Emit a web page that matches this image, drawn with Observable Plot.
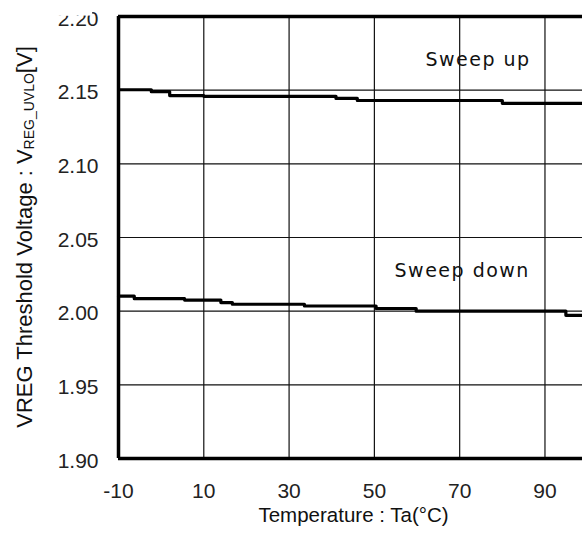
<!DOCTYPE html>
<html>
<head>
<meta charset="utf-8">
<script src="https://cdn.jsdelivr.net/npm/d3@7"></script>
<script src="https://cdn.jsdelivr.net/npm/@observablehq/plot@0.6"></script>
<style>
  html, body { margin: 0; padding: 0; background: #fff; }
  #chart { width: 582px; height: 538px; overflow: hidden; }
</style>
</head>
<body>
<div id="chart"></div>
<script>
// ---- data ----
const xTicks = [-10, 10, 30, 50, 70, 90];
const yTicks = [1.90, 1.95, 2.00, 2.05, 2.10, 2.15, 2.20];
const xDomain = [-10, 98.8];
const yDomain = [1.90, 2.20];

const upTemp = [-10, -2.3, 2, 10, 41, 46, 80, 98.8];
const upVolt = [2.1503, 2.1490, 2.1463, 2.1458, 2.1444, 2.1430, 2.1411, 2.1411];

const downTemp = [-10, -6.3, 5.5, 14, 16.7, 33.6, 50.4, 59.8, 94.9, 98.8];
const downVolt = [2.0102, 2.0085, 2.0075, 2.0058, 2.0047, 2.0035, 2.0018, 2.0000, 1.9972, 1.9972];

const seriesNames = ["Sweep up", "Sweep down"];
const labelTemp = [74.3, 70.6];
const labelVolt = [2.1702, 2.0273];

const xTitle = "Temperature : Ta(°C)";
const yTitleMain = "VREG Threshold Voltage : V";
const yTitleSub = "REG_UVLO";
const yTitleEnd = "[V]";

// ---- tables ----
const up = upTemp.map((t, i) => ({t, v: upVolt[i]}));
const down = downTemp.map((t, i) => ({t, v: downVolt[i]}));
const labels = seriesNames.map((s, i) => ({s, t: labelTemp[i], v: labelVolt[i]}));

const font = "'Liberation Sans', Arial, Helvetica, sans-serif";

const svg = Plot.plot({
  width: 582,
  height: 538,
  marginLeft: 118,
  marginRight: 0,
  marginTop: 16,
  marginBottom: 80,
  style: {fontFamily: font, fontSize: "21px", background: "#fff", color: "#111", overflow: "visible"},
  x: {domain: xDomain},
  y: {domain: yDomain},
  marks: [
    Plot.gridX(xTicks.slice(1), {stroke: "#111", strokeOpacity: 1, strokeWidth: 1.2}),
    Plot.gridY(yTicks.slice(1, -1), {stroke: "#111", strokeOpacity: 1, strokeWidth: 1.2}),
    Plot.axisX(xTicks, {tickSize: 0, tickPadding: 25, label: null, fontSize: 21, fill: "#222",
      tickFormat: d => String(d)}),
    Plot.axisY(yTicks, {tickSize: 0, tickPadding: 20, dy: 2.5, label: null, fontSize: 21, fill: "#222",
      tickFormat: d3.format(".2f")}),
    Plot.text(labels, {x: "t", y: "v", text: "s", className: "annot",
      fontFamily: "'DejaVu Sans', Verdana, sans-serif", fontSize: 19, fill: "#111"}),
    Plot.line(up, {x: "t", y: "v", curve: "step-after", stroke: "#000", strokeWidth: 3.2}),
    Plot.line(down, {x: "t", y: "v", curve: "step-after", stroke: "#000", strokeWidth: 3.2}),
    Plot.ruleY([yDomain[0], yDomain[1]], {stroke: "#000", strokeWidth: 3.5}),
    Plot.ruleX([xDomain[0]], {stroke: "#000", strokeWidth: 3.5}),
    Plot.text([xTitle], {frameAnchor: "bottom", dy: 63, dx: 3, fontSize: 20.5, fill: "#111"})
  ]
});

document.getElementById("chart").appendChild(svg);

// white boxes behind the series labels (break the grid like the reference)
const root = d3.select(svg);
root.selectAll("g.annot text").style("letter-spacing", "1.5px");
root.selectAll("g.annot text").each(function() {
  const bb = this.getBBox();
  const g = this.parentNode;
  d3.select(g).insert("rect", "text")
    .attr("x", bb.x - 24).attr("y", bb.y - 4)
    .attr("width", bb.width + 48).attr("height", bb.height + 9)
    .attr("fill", "#fff");
});

// rotated y title with subscript
const yt = root.append("text")
  .attr("transform", "translate(32,237) rotate(-90)")
  .attr("text-anchor", "middle")
  .attr("font-family", font)
  .attr("font-size", 22)
  .attr("fill", "#111");
yt.append("tspan").text(yTitleMain);
yt.append("tspan").attr("font-size", 14).attr("dy", 2).text(yTitleSub);
yt.append("tspan").attr("dy", -2).text(yTitleEnd);
</script>
</body>
</html>
